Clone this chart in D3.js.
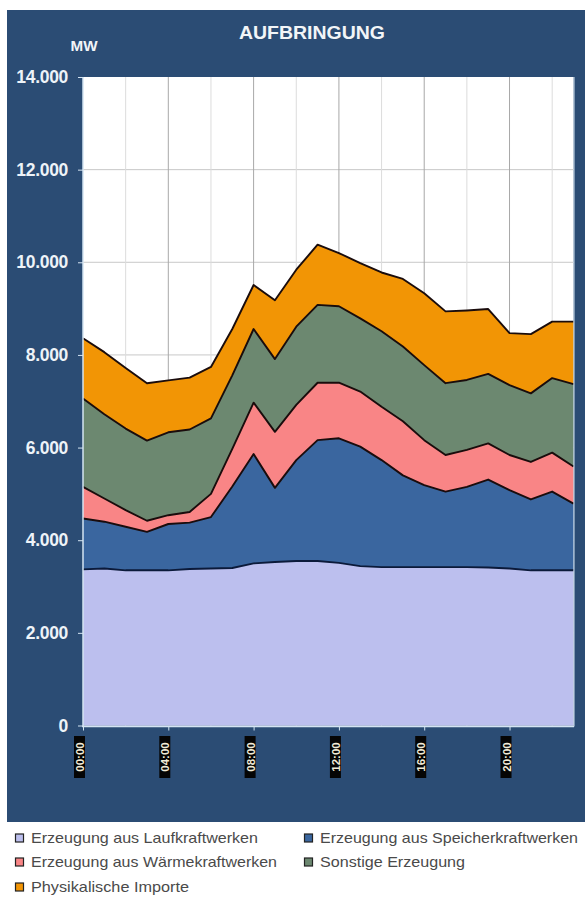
<!DOCTYPE html>
<html>
<head>
<meta charset="utf-8">
<script src="https://cdn.jsdelivr.net/npm/d3@7"></script>
<style>
  body { margin: 0; background: #fff; }
  svg { display: block; font-family: "Liberation Sans", Arial, sans-serif; }
</style>
</head>
<body>
<div id="chart"></div>
<script>
// hourly values, MW
var hours = ["00:00","01:00","02:00","03:00","04:00","05:00","06:00","07:00","08:00","09:00","10:00","11:00",
             "12:00","13:00","14:00","15:00","16:00","17:00","18:00","19:00","20:00","21:00","22:00","23:00"];
var lauf     = [3370,3390,3350,3350,3350,3380,3390,3400,3500,3530,3550,3550,3510,3440,3420,3420,3420,3420,3420,3410,3390,3350,3350,3350];
var speicher = [1100,1010,940,830,1000,1000,1110,1760,2360,1600,2180,2610,2690,2580,2310,1980,1770,1630,1730,1900,1690,1530,1700,1440];
var waerme   = [680,500,360,240,190,230,500,810,1110,1210,1190,1240,1200,1190,1150,1170,970,790,800,780,760,810,840,800];
var sonstige = [1910,1820,1760,1730,1790,1780,1630,1590,1590,1570,1690,1680,1650,1580,1630,1610,1620,1550,1510,1500,1510,1480,1610,1780];
var importe  = [1300,1340,1310,1240,1120,1120,1110,1000,950,1270,1230,1300,1150,1190,1270,1460,1550,1550,1500,1400,1120,1280,1220,1350];

var seriesNames = ["Erzeugung aus Laufkraftwerken","Erzeugung aus Speicherkraftwerken","Erzeugung aus Wärmekraftwerken","Sonstige Erzeugung","Physikalische Importe"];
var seriesKeys = ["lauf","speicher","waerme","sonstige","importe"];
var colors = ["#bcbfee","#3a669f","#f98586","#6c8870","#f29505"];
var yTicks = [0,2000,4000,6000,8000,10000,12000,14000];
var xTickLabels = ["00:00","04:00","08:00","12:00","16:00","20:00"];

var W = 585, H = 902;
var svg = d3.select("#chart").append("svg").attr("width", W).attr("height", H);

// dark panel
svg.append("rect").attr("x", 7).attr("y", 10).attr("width", W - 7).attr("height", 812).attr("fill", "#2b4c74");

var x = d3.scalePoint().domain(hours).range([83, 573.5]);
var y = d3.scaleLinear().domain([0, 14000]).range([725.5, 77]);

// plot area
svg.append("rect").attr("x", 83).attr("y", 77).attr("width", 573.5 - 83).attr("height", 725.5 - 77).attr("fill", "#fff");

// grid
svg.append("g").selectAll("line").data(yTicks.slice(1, -1)).enter().append("line")
  .attr("x1", 83).attr("x2", 573.5).attr("y1", function(d) { return y(d); }).attr("y2", function(d) { return y(d); })
  .attr("stroke", "#c8c8c8").attr("stroke-width", 1);
svg.append("g").selectAll("line").data(hours.filter(function(h, i) { return i % 2 == 0 && i > 0; })).enter().append("line")
  .attr("x1", function(d) { return x(d); }).attr("x2", function(d) { return x(d); })
  .attr("y1", 77).attr("y2", 725.5)
  .attr("stroke", function(d, i) { return i % 2 == 1 ? "#a8a8a8" : "#dcdcdc"; }).attr("stroke-width", 1);

// stacked areas
var table = hours.map(function(h, i) {
  return {hour: h, lauf: lauf[i], speicher: speicher[i], waerme: waerme[i], sonstige: sonstige[i], importe: importe[i]};
});
var stack = d3.stack().keys(seriesKeys);
var layers = stack(table);

var area = d3.area()
  .x(function(d) { return x(d.data.hour); })
  .y0(function(d) { return y(d[0]); })
  .y1(function(d) { return y(d[1]); });
var topLine = d3.line()
  .x(function(d) { return x(d.data.hour); })
  .y(function(d) { return y(d[1]); });

svg.append("g").selectAll("path").data(layers).enter().append("path")
  .attr("d", area).attr("fill", function(d, i) { return colors[i]; });
svg.append("g").selectAll("path").data(layers).enter().append("path")
  .attr("d", topLine).attr("fill", "none")
  .attr("stroke", function(d, i) { return i == 0 ? "#0b1a3a" : "#1a0c0c"; })
  .attr("stroke-width", 1.9).attr("stroke-linejoin", "round");

// axes
var axisCol = "#d4e4f2";
svg.append("line").attr("x1", 83).attr("x2", 83).attr("y1", 77).attr("y2", 726.5).attr("stroke", axisCol).attr("stroke-width", 1.5);
svg.append("line").attr("x1", 82).attr("x2", 574).attr("y1", 726.5).attr("y2", 726.5).attr("stroke", axisCol).attr("stroke-width", 1.5);
svg.append("line").attr("x1", 574).attr("x2", 574).attr("y1", 77).attr("y2", 726.5).attr("stroke", axisCol).attr("stroke-width", 1);

var yAxis = svg.append("g").attr("transform", "translate(83,0)")
  .call(d3.axisLeft(y).tickValues(yTicks).tickSize(5).tickPadding(10)
    .tickFormat(function(d) { return d3.format(",")(d).replace(/,/g, "."); }));
yAxis.select(".domain").remove();
yAxis.selectAll("line").attr("stroke", axisCol);
yAxis.selectAll("text").attr("fill", "#eef3f8").style("font-size", "17.5px").style("font-weight", "bold")
  .style("font-family", "'Liberation Sans', Arial, sans-serif").style("letter-spacing", "-0.3px");

var xAxis = svg.append("g").attr("transform", "translate(0,726.5)")
  .call(d3.axisBottom(x).tickValues(xTickLabels).tickSize(4).tickFormat(""));
xAxis.select(".domain").remove();
xAxis.selectAll("line").attr("stroke", axisCol);

var xl = svg.append("g").selectAll("g").data(xTickLabels).enter().append("g")
  .attr("transform", function(d) { return "translate(" + (x(d) - 3) + ",757) rotate(-90)"; });
xl.append("rect").attr("x", -21).attr("y", -6).attr("width", 42).attr("height", 11).attr("fill", "#050505");
xl.append("text").attr("text-anchor", "middle").attr("dy", "0.36em")
  .attr("fill", "#f2ecd8").style("font-size", "11.5px").style("font-weight", "bold")
  .text(function(d) { return d; });

// titles
svg.append("text").attr("x", 312).attr("y", 39).attr("text-anchor", "middle")
  .attr("fill", "#f2f5f8").style("font-size", "19px").style("font-weight", "bold")
  .attr("textLength", 146).attr("lengthAdjust", "spacingAndGlyphs")
  .text("AUFBRINGUNG");
svg.append("text").attr("x", 84).attr("y", 51).attr("text-anchor", "middle")
  .attr("fill", "#f2f5f8").style("font-size", "14px").style("font-weight", "bold")
  .attr("textLength", 27).attr("lengthAdjust", "spacingAndGlyphs")
  .text("MW");

// legend
var legendPos = [[15, 838, 227], [304, 838, 258], [15, 862, 246], [304, 862, 145], [15, 887, 158]];
var leg = svg.append("g").selectAll("g").data(seriesNames).enter().append("g")
  .attr("transform", function(d, i) { return "translate(" + legendPos[i][0] + "," + legendPos[i][1] + ")"; });
leg.append("rect").attr("x", 0.5).attr("y", -4).attr("width", 8).attr("height", 8)
  .attr("fill", function(d, i) { return colors[i]; }).attr("stroke", "#222").attr("stroke-width", 1.2);
leg.append("text").attr("x", 16).attr("dy", "0.36em").attr("fill", "#4a4a4a").style("font-size", "14.5px")
  .attr("textLength", function(d, i) { return legendPos[i][2]; }).attr("lengthAdjust", "spacingAndGlyphs")
  .text(function(d) { return d; });
</script>
</body>
</html>
